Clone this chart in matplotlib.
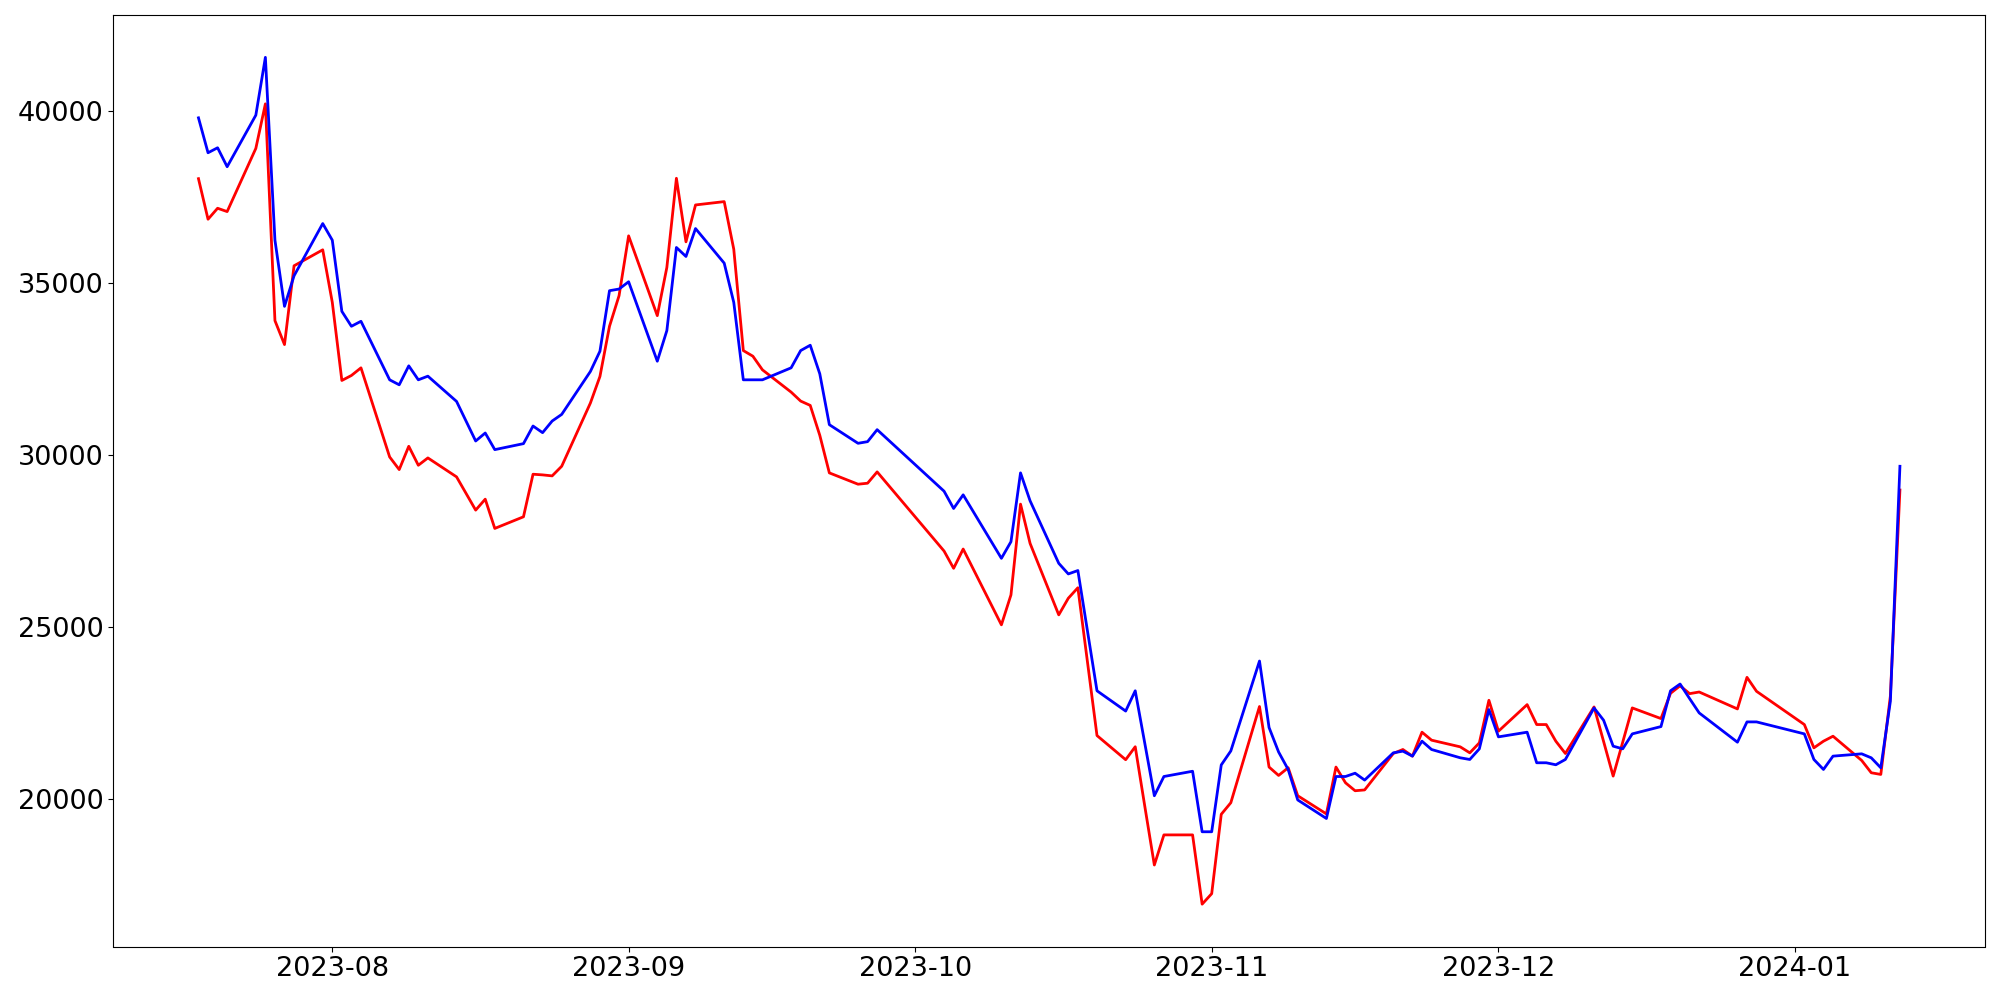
import matplotlib
matplotlib.use("Agg")
import matplotlib.pyplot as plt
import pandas as pd

# trading days (KRX calendar): business days minus market holidays
START = "2023-07-18"
END = "2024-01-12"
HOLIDAYS = ["2023-08-15", "2023-09-28", "2023-09-29", "2023-10-02", "2023-10-03",
            "2023-10-09", "2023-12-25", "2023-12-29", "2024-01-01"]

red_vals = [
    # Jul
    38039, 36860, 37179, 37082, 38918, 40213, 33913, 33217, 35507, 35971,
    # Aug
    34444, 32174, 32319, 32541, 29951, 29584, 30261, 29710, 29923, 29372, 28406,
    28724, 27874, 28212, 29449, 29430, 29401, 29681, 31517, 32290, 33749, 34638,
    # Sep
    36377, 34058, 35459, 38050, 36203, 37275, 37372, 35990, 33043, 32879, 32483,
    31836, 31575, 31449, 30580, 29488, 29159, 29188, 29517,
    # Oct
    27217, 26715, 27275, 25072, 25942, 28580, 27439, 25362, 25845, 26150, 24000,
    21854, 21152, 21529, 19800, 18092, 18967, 18967, 16954,
    # Nov
    17259, 19566, 19902, 22698, 20939, 20695, 20919, 20105, 19577, 20939, 20481,
    20250, 20274, 21333, 21449, 21256, 21952, 21720, 21526, 21352, 21642, 22879,
    # Dec
    21981, 22753, 22174, 22174, 21691, 21333, 22686, 21681, 20676, 21662, 22657,
    22348, 23082, 23300, 23072, 23120, 22628, 23546, 23140,
    # Jan
    22174, 21497, 21690, 21835, 21130, 20773, 20724, 23000, 28990,
]

blue_vals = [
    # Jul
    39807, 38792, 38937, 38386, 39884, 41565, 36251, 34328, 35217, 36734,
    # Aug
    36251, 34183, 33749, 33894, 32193, 32048, 32599, 32193, 32299, 31565, 30415,
    30647, 30164, 30338, 30850, 30657, 30995, 31188, 32435, 33024, 34783, 34831,
    # Sep
    35043, 32734, 33623, 36039, 35778, 36589, 35584, 34444, 32193, 32193, 32193,
    32541, 33043, 33198, 32367, 30889, 30348, 30396, 30744,
    # Oct
    28956, 28454, 28850, 27005, 27488, 29488, 28676, 26860, 26551, 26650, 24900,
    23155, 22566, 23155, 21630, 20105, 20664, 20817, 19058,
    # Nov
    19058, 21000, 21407, 24020, 22088, 21376, 20868, 19983, 19444, 20664, 20664,
    20760, 20560, 21352, 21401, 21256, 21691, 21449, 21208, 21159, 21468, 22609,
    # Dec
    21816, 21952, 21063, 21063, 21005, 21159, 22657, 22299, 21546, 21468, 21903,
    22115, 23155, 23352, 22927, 22512, 21661, 22251, 22251,
    # Jan
    21903, 21159, 20869, 21256, 21323, 21207, 20917, 22850, 29680,
]

_FONT = 19.5


def main():
    dates = pd.bdate_range(START, END)
    dates = dates[~dates.isin(pd.to_datetime(HOLIDAYS))]
    assert len(dates) == len(red_vals) == len(blue_vals), (len(dates), len(red_vals), len(blue_vals))

    fig, ax = plt.subplots(figsize=(20, 10), dpi=100)
    fig.subplots_adjust(left=0.0567, right=0.9925, bottom=0.0535, top=0.985)

    ax.plot(dates, red_vals, color="red", linewidth=2)
    ax.plot(dates, blue_vals, color="blue", linewidth=2)

    ax.tick_params(axis="both", labelsize=_FONT)

    fig.savefig("out.png", dpi=100, facecolor="white")
    plt.close(fig)


if __name__ == "__main__":
    main()
